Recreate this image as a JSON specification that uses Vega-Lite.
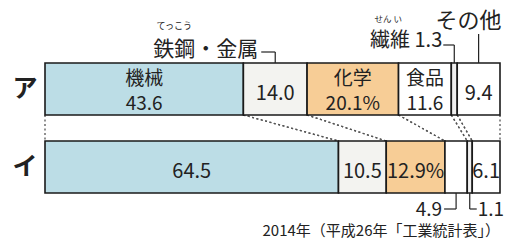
{
  "$schema": "https://vega.github.io/schema/vega-lite/v6.json",
  "width": 514,
  "height": 249,
  "autosize": "none",
  "padding": 0,
  "background": "#ffffff",
  "config": {"view": {"stroke": null}, "font": "Noto Sans CJK JP"},
  "data": {
    "values": [
      {"row": "ア", "cat": "機械", "value": 43.6, "name": "機械", "num": "43.6", "note": "", "ruby": ""},
      {"row": "ア", "cat": "鉄鋼・金属", "value": 14.0, "name": "", "num": "14.0", "note": "鉄鋼・金属", "ruby": "てっこう"},
      {"row": "ア", "cat": "化学", "value": 20.1, "name": "化学", "num": "20.1%", "note": "", "ruby": ""},
      {"row": "ア", "cat": "食品", "value": 11.6, "name": "食品", "num": "11.6", "note": "", "ruby": ""},
      {"row": "ア", "cat": "繊維", "value": 1.3, "name": "", "num": "", "note": "繊維 1.3", "ruby": "せん い"},
      {"row": "ア", "cat": "その他", "value": 9.4, "name": "", "num": "9.4", "note": "その他", "ruby": ""},
      {"row": "イ", "cat": "機械", "value": 64.5, "name": "", "num": "64.5", "note": "", "ruby": ""},
      {"row": "イ", "cat": "鉄鋼・金属", "value": 10.5, "name": "", "num": "10.5", "note": "", "ruby": ""},
      {"row": "イ", "cat": "化学", "value": 12.9, "name": "", "num": "12.9%", "note": "", "ruby": ""},
      {"row": "イ", "cat": "食品", "value": 4.9, "name": "", "num": "", "note": "4.9", "ruby": ""},
      {"row": "イ", "cat": "繊維", "value": 1.1, "name": "", "num": "", "note": "1.1", "ruby": ""},
      {"row": "イ", "cat": "その他", "value": 6.1, "name": "", "num": "6.1", "note": "", "ruby": ""}
    ]
  },
  "transform": [
    {"stack": "value", "groupby": ["row"], "as": ["x0", "x1"]},
    {"fold": ["x0", "x1"], "as": ["edge", "pos"]},
    {"joinaggregate": [{"op": "mean", "field": "pos", "as": "mid"}], "groupby": ["row", "cat"]}
  ],
  "layer": [
    {
      "transform": [{"pivot": "row", "value": "pos", "groupby": ["cat", "edge"]}],
      "mark": {"type": "rule", "color": "#555555", "strokeDash": [2, 2.5], "strokeWidth": 1.3, "yOffset": 26, "y2Offset": -26},
      "encoding": {
        "x": {"field": "ア", "type": "quantitative", "scale": {"domain": [0, 100], "range": [45, 500]}, "axis": null},
        "x2": {"field": "イ"},
        "y": {"datum": "ア", "type": "nominal", "scale": {"domain": ["ア", "イ"], "range": [63, 193], "paddingInner": 0.3333333, "paddingOuter": 0}, "axis": null},
        "y2": {"datum": "イ"}
      }
    },
    {
      "transform": [{"filter": "datum.edge == 'x0'"}],
      "mark": {"type": "bar", "stroke": "#1a1a1a", "strokeWidth": 1.6},
      "encoding": {
        "x": {"field": "x0", "type": "quantitative"},
        "x2": {"field": "x1"},
        "y": {"field": "row", "type": "nominal"},
        "color": {
          "field": "cat", "type": "nominal", "legend": null,
          "scale": {"domain": ["機械", "鉄鋼・金属", "化学", "食品", "繊維", "その他"], "range": ["#bcdde6", "#f3f3f0", "#f7cd96", "#ffffff", "#f0f0f0", "#ffffff"]}
        }
      }
    },
    {
      "transform": [{"filter": "datum.edge == 'x0' && datum.name != ''"}],
      "mark": {"type": "text", "fontSize": 19, "baseline": "middle", "dy": -10, "color": "#222222"},
      "encoding": {
        "x": {"field": "mid", "type": "quantitative"},
        "y": {"field": "row", "type": "nominal"},
        "text": {"field": "name"}
      }
    },
    {
      "transform": [{"filter": "datum.edge == 'x0' && datum.name != ''"}],
      "mark": {"type": "text", "fontSize": 19, "baseline": "middle", "dy": 15, "color": "#222222"},
      "encoding": {
        "x": {"field": "mid", "type": "quantitative"},
        "y": {"field": "row", "type": "nominal"},
        "text": {"field": "num"}
      }
    },
    {
      "transform": [{"filter": "datum.edge == 'x0' && datum.name == '' && datum.num != ''"}],
      "mark": {"type": "text", "fontSize": 20, "baseline": "middle", "dy": 5, "color": "#222222"},
      "encoding": {
        "x": {"field": "mid", "type": "quantitative"},
        "y": {"field": "row", "type": "nominal"},
        "text": {"field": "num"}
      }
    },
    {
      "transform": [{"filter": "datum.edge == 'x0' && datum.cat == '機械'"}],
      "mark": {"type": "text", "fontSize": 25, "fontWeight": "bold", "dx": -20, "align": "center", "baseline": "middle", "color": "#222222"},
      "encoding": {
        "x": {"datum": 0},
        "y": {"field": "row", "type": "nominal"},
        "text": {"field": "row"}
      }
    },
    {
      "transform": [{"filter": "datum.edge == 'x0' && datum.row == 'ア' && datum.cat == '鉄鋼・金属'"}],
      "layer": [
        {"mark": {"type": "rule", "color": "#222222", "strokeWidth": 1.2, "yOffset": -26, "y2Offset": -37},
         "encoding": {"x": {"field": "mid", "type": "quantitative"}, "y": {"field": "row", "type": "nominal"}, "y2": {"field": "row"}}},
        {"mark": {"type": "rule", "color": "#222222", "strokeWidth": 1.2, "yOffset": -37, "x2Offset": -14},
         "encoding": {"x": {"field": "mid", "type": "quantitative"}, "x2": {"field": "mid"}, "y": {"field": "row", "type": "nominal"}}},
        {"mark": {"type": "text", "fontSize": 21, "align": "right", "baseline": "middle", "dx": -17, "dy": -39, "color": "#222222"},
         "encoding": {"x": {"field": "mid", "type": "quantitative"}, "y": {"field": "row", "type": "nominal"}, "text": {"field": "note"}}},
        {"mark": {"type": "text", "fontSize": 9, "align": "center", "baseline": "middle", "dx": -101, "dy": -63, "color": "#222222"},
         "encoding": {"x": {"field": "mid", "type": "quantitative"}, "y": {"field": "row", "type": "nominal"}, "text": {"field": "ruby"}}}
      ]
    },
    {
      "transform": [{"filter": "datum.edge == 'x0' && datum.row == 'ア' && datum.cat == '繊維'"}],
      "layer": [
        {"mark": {"type": "rule", "color": "#222222", "strokeWidth": 1.2, "yOffset": -26, "y2Offset": -44},
         "encoding": {"x": {"field": "mid", "type": "quantitative"}, "y": {"field": "row", "type": "nominal"}, "y2": {"field": "row"}}},
        {"mark": {"type": "rule", "color": "#222222", "strokeWidth": 1.2, "yOffset": -44, "x2Offset": -11},
         "encoding": {"x": {"field": "mid", "type": "quantitative"}, "x2": {"field": "mid"}, "y": {"field": "row", "type": "nominal"}}},
        {"mark": {"type": "text", "fontSize": 20, "align": "right", "baseline": "middle", "dx": -12, "dy": -48, "color": "#222222"},
         "encoding": {"x": {"field": "mid", "type": "quantitative"}, "y": {"field": "row", "type": "nominal"}, "text": {"field": "note"}}},
        {"mark": {"type": "text", "fontSize": 8.5, "align": "center", "baseline": "middle", "dx": -66, "dy": -70, "color": "#222222"},
         "encoding": {"x": {"field": "mid", "type": "quantitative"}, "y": {"field": "row", "type": "nominal"}, "text": {"field": "ruby"}}}
      ]
    },
    {
      "transform": [{"filter": "datum.edge == 'x0' && datum.row == 'ア' && datum.cat == 'その他'"}],
      "layer": [
        {"mark": {"type": "rule", "color": "#222222", "strokeWidth": 1.2, "yOffset": -26, "y2Offset": -55},
         "encoding": {"x": {"field": "mid", "type": "quantitative"}, "y": {"field": "row", "type": "nominal"}, "y2": {"field": "row"}}},
        {"mark": {"type": "text", "fontSize": 22, "align": "center", "baseline": "middle", "dx": -10, "dy": -68, "color": "#222222"},
         "encoding": {"x": {"field": "mid", "type": "quantitative"}, "y": {"field": "row", "type": "nominal"}, "text": {"field": "note"}}}
      ]
    },
    {
      "transform": [{"filter": "datum.edge == 'x0' && datum.row == 'イ' && datum.cat == '食品'"}],
      "layer": [
        {"mark": {"type": "rule", "color": "#222222", "strokeWidth": 1.2, "yOffset": 26, "y2Offset": 42},
         "encoding": {"x": {"field": "mid", "type": "quantitative"}, "y": {"field": "row", "type": "nominal"}, "y2": {"field": "row"}}},
        {"mark": {"type": "rule", "color": "#222222", "strokeWidth": 1.2, "yOffset": 42, "x2Offset": -12},
         "encoding": {"x": {"field": "mid", "type": "quantitative"}, "x2": {"field": "mid"}, "y": {"field": "row", "type": "nominal"}}},
        {"mark": {"type": "text", "fontSize": 19, "align": "right", "baseline": "middle", "dx": -14, "dy": 43, "color": "#222222"},
         "encoding": {"x": {"field": "mid", "type": "quantitative"}, "y": {"field": "row", "type": "nominal"}, "text": {"field": "note"}}}
      ]
    },
    {
      "transform": [{"filter": "datum.edge == 'x0' && datum.row == 'イ' && datum.cat == '繊維'"}],
      "layer": [
        {"mark": {"type": "rule", "color": "#222222", "strokeWidth": 1.2, "yOffset": 26, "y2Offset": 42},
         "encoding": {"x": {"field": "mid", "type": "quantitative"}, "y": {"field": "row", "type": "nominal"}, "y2": {"field": "row"}}},
        {"mark": {"type": "rule", "color": "#222222", "strokeWidth": 1.2, "yOffset": 42, "x2Offset": 7},
         "encoding": {"x": {"field": "mid", "type": "quantitative"}, "x2": {"field": "mid"}, "y": {"field": "row", "type": "nominal"}}},
        {"mark": {"type": "text", "fontSize": 19, "align": "left", "baseline": "middle", "dx": 8, "dy": 43, "color": "#222222"},
         "encoding": {"x": {"field": "mid", "type": "quantitative"}, "y": {"field": "row", "type": "nominal"}, "text": {"field": "note"}}}
      ]
    },
    {
      "data": {"values": [{"src": "2014年（平成26年「工業統計表」）"}]},
      "mark": {"type": "text", "fontSize": 15, "align": "right", "baseline": "middle", "dy": 64, "color": "#222222"},
      "encoding": {"x": {"datum": 100}, "y": {"datum": "イ"}, "text": {"field": "src"}}
    }
  ]
}
